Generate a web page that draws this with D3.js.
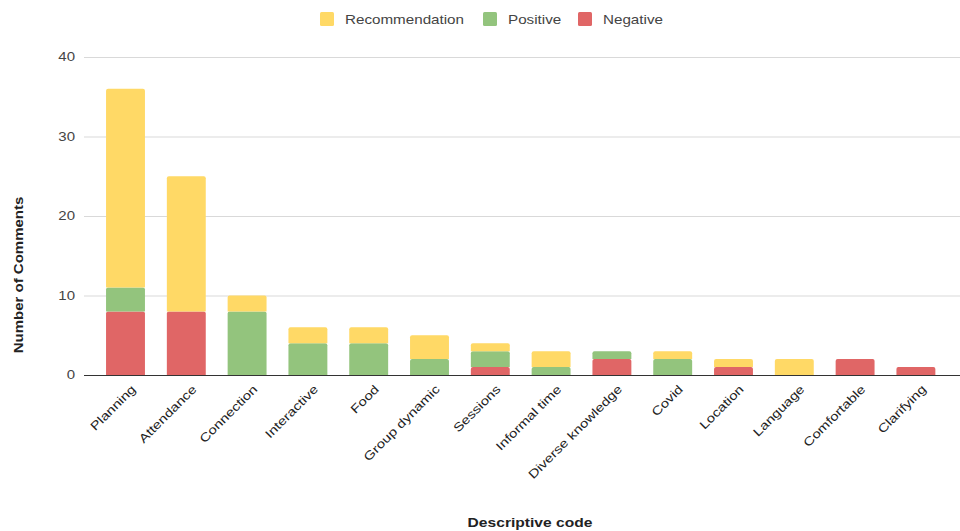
<!DOCTYPE html>
<html><head><meta charset="utf-8">
<script src="https://cdn.jsdelivr.net/npm/d3@7"></script>
<style>body{margin:0;background:#fff}svg{display:block;font-family:"Liberation Sans",Arial,sans-serif}</style>
</head><body><svg id="c" width="960" height="531"></svg>
<script>
const categories = ["Planning","Attendance","Connection","Interactive","Food","Group dynamic","Sessions","Informal time","Diverse knowledge","Covid","Location","Language","Comfortable","Clarifying"];
const negative = [8,8,0,0,0,0,1,0,2,0,1,0,2,1];
const positive = [3,0,8,4,4,2,2,1,1,2,0,0,0,0];
const recommendation = [25,17,2,2,2,3,1,2,0,1,1,2,0,0];
const yTicks = [0,10,20,30,40];
const seriesNames = ["Negative","Positive","Recommendation"];
const legendOrder = ["Recommendation","Positive","Negative"];
const colors = {Recommendation:"#ffd966",Positive:"#93c47d",Negative:"#e06666"};

const svg = d3.select("#c");
const rows = categories.map((c,i)=>({cat:c,Negative:negative[i],Positive:positive[i],Recommendation:recommendation[i]}));
const stack = d3.stack().keys(seriesNames)(rows);
const x = d3.scaleBand().domain(categories).range([95.1,946.3]).paddingInner(0.36).paddingOuter(0.18);
const y = d3.scaleLinear().domain([0,40]).range([375,57]);

// grid
svg.append("g").selectAll("line").data(yTicks.filter(d=>d>0)).join("line")
  .attr("x1",84).attr("x2",960).attr("y1",d=>y(d)+0.5).attr("y2",d=>y(d)+0.5)
  .attr("stroke","#d9d9d9").attr("stroke-width",1);
// y labels
svg.append("g").selectAll("text").data(yTicks).join("text")
  .attr("transform",d=>`translate(75,${y(d)}) scale(1.25,1)`)
  .attr("dy","0.35em").attr("text-anchor","end")
  .attr("font-size",12).attr("fill","#444").text(d=>d);

// bars
const g = svg.append("g");
stack.forEach(s=>{
  g.append("g").attr("fill",colors[s.key]).selectAll("path").data(s).join("path")
    .attr("d",d=>{
      const x0=x(d.data.cat), w=x.bandwidth(), y0=y(d[0]), y1=y(d[1]);
      if (y0-y1<=0) return "";
      const r=Math.min(2,(y0-y1)/2);
      return `M${x0},${y0}V${y1+r}Q${x0},${y1} ${x0+r},${y1}H${x0+w-r}Q${x0+w},${y1} ${x0+w},${y1+r}V${y0}Z`;
    });
});

// baseline
svg.append("line").attr("x1",84).attr("x2",960).attr("y1",375.5).attr("y2",375.5).attr("stroke","#333").attr("stroke-width",1);

// x labels
svg.append("g").selectAll("text").data(categories).join("text")
  .attr("transform",d=>`translate(${x(d)+x.bandwidth()/2+8},${387}) rotate(-45) scale(1.25,1)`)
  .attr("text-anchor","end").attr("dy","0.35em")
  .attr("font-size",12).attr("fill","#222").text(d=>d);

// axis titles
svg.append("text").attr("transform","translate(23,275) rotate(-90) scale(1.25,1)").attr("text-anchor","middle")
  .attr("font-size",12).attr("font-weight","bold").attr("fill","#222").text("Number of Comments");
svg.append("text").attr("transform","translate(530,527) scale(1.3,1)").attr("text-anchor","middle")
  .attr("font-size",12).attr("font-weight","bold").attr("fill","#222").text("Descriptive code");

// legend
const legX = [320,483,578];
const leg = svg.append("g");
legendOrder.forEach((k,i)=>{
  leg.append("rect").attr("x",legX[i]).attr("y",12).attr("width",14).attr("height",14).attr("rx",1.5).attr("fill",colors[k]);
  leg.append("text").attr("transform",`translate(${legX[i]+25},19) scale(1.17,1)`).attr("dy","0.35em").attr("font-size",13).attr("fill","#444").text(k);
});
</script></body></html>
